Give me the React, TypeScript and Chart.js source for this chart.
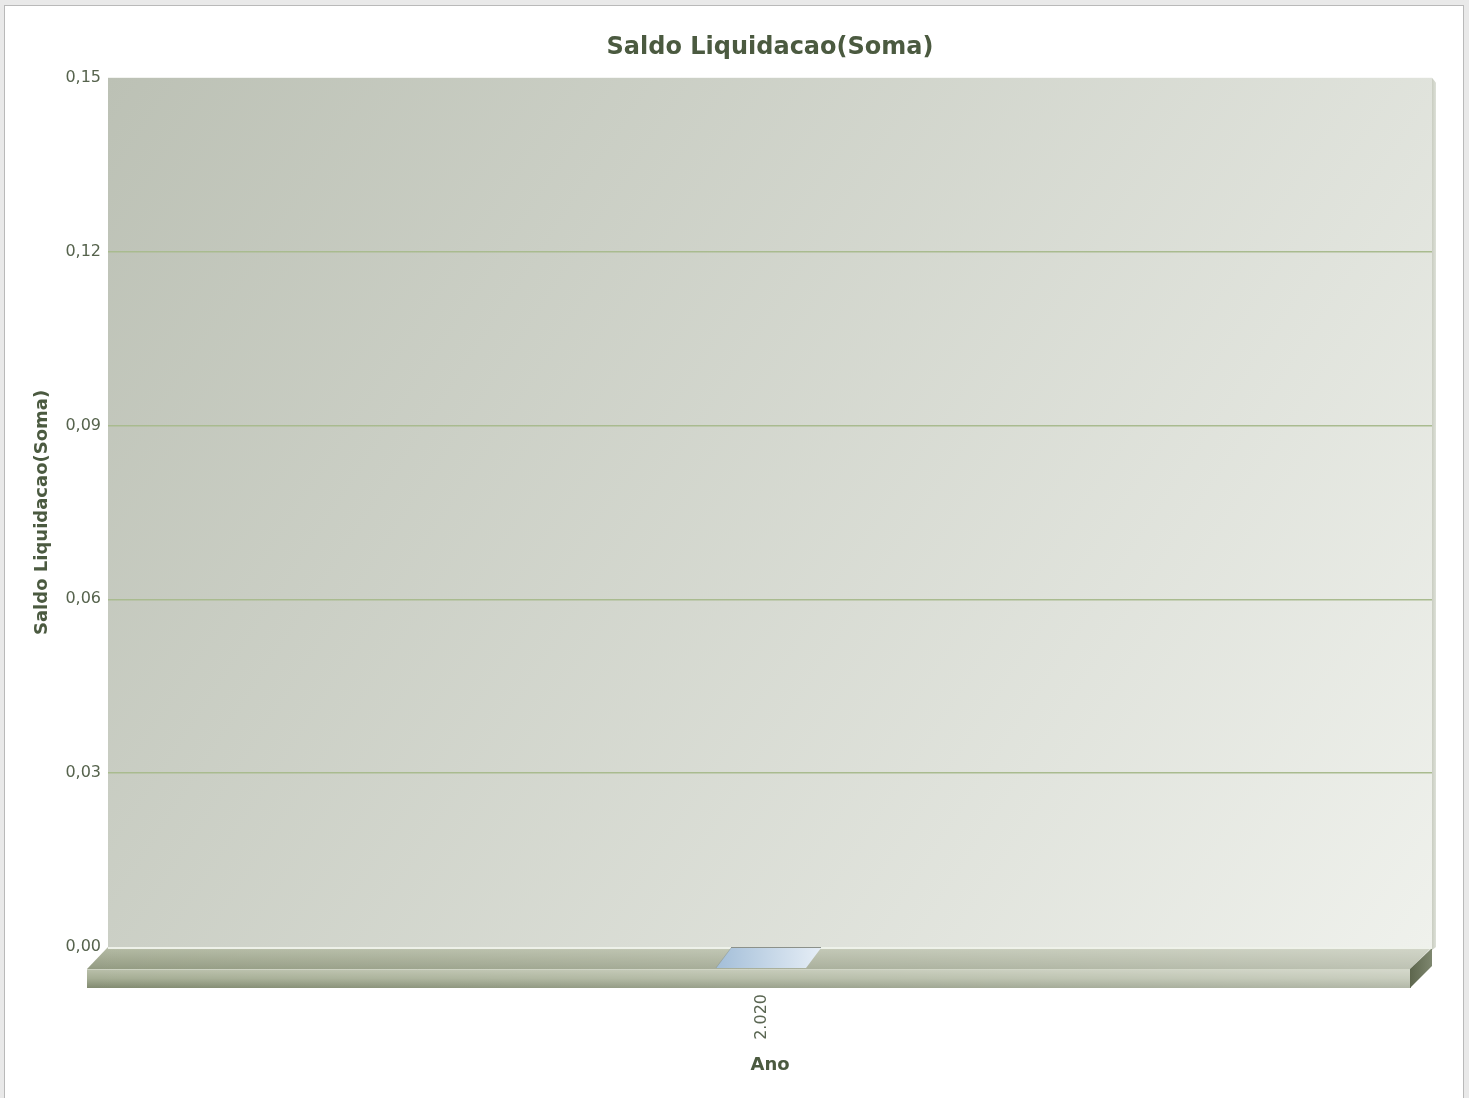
import React, { useEffect, useRef } from "react";
import { Chart, registerables } from "chart.js";

Chart.register(...registerables);

const chartTitle = "Saldo Liquidacao(Soma)";
const yAxisTitle = "Saldo Liquidacao(Soma)";
const xAxisTitle = "Ano";
const categories = ["2.020"];
const seriesValues = [0];
const yTickValues = [0, 0.03, 0.06, 0.09, 0.12, 0.15];
const yTickLabels = ["0,00", "0,03", "0,06", "0,09", "0,12", "0,15"];

const FONT = "'DejaVu Sans', sans-serif";
const DX = 22;
const DY = 22;

const wallPlugin = {
  id: "wall3d",
  beforeDraw(chart: any) {
    const { ctx, chartArea: ca } = chart;
    ctx.save();
    const g = ctx.createLinearGradient(ca.left, ca.top, ca.right, ca.bottom);
    g.addColorStop(0, "#bcc1b5");
    g.addColorStop(1, "#eff1ec");
    ctx.fillStyle = g;
    ctx.fillRect(ca.left, ca.top, ca.right - ca.left, ca.bottom - ca.top);
    const gs = ctx.createLinearGradient(ca.right, 0, ca.right + 5, 0);
    gs.addColorStop(0, "#c9cdc1");
    gs.addColorStop(1, "#e2e5dd");
    ctx.fillStyle = gs;
    ctx.beginPath();
    ctx.moveTo(ca.right, ca.top);
    ctx.lineTo(ca.right + 4, ca.top + 5);
    ctx.lineTo(ca.right + 4, ca.bottom);
    ctx.lineTo(ca.right, ca.bottom + 3);
    ctx.closePath();
    ctx.fill();
    ctx.restore();
  },
  beforeDatasetsDraw(chart: any) {
    const { ctx, chartArea: ca } = chart;
    const yb = ca.bottom;
    ctx.save();
    const top = ctx.createLinearGradient(0, yb, 0, yb + DY);
    top.addColorStop(0, "#bcc2ad");
    top.addColorStop(0.15, "#b0b7a0");
    top.addColorStop(1, "#939b82");
    ctx.fillStyle = top;
    ctx.beginPath();
    ctx.moveTo(ca.left, yb);
    ctx.lineTo(ca.right, yb);
    ctx.lineTo(ca.right - DX, yb + DY);
    ctx.lineTo(ca.left - DX + 1, yb + DY);
    ctx.closePath();
    ctx.fill();
    const fy0 = yb + DY;
    const fy1 = yb + DY + 19;
    const front = ctx.createLinearGradient(0, fy0, 0, fy1);
    front.addColorStop(0, "#bac0ab");
    front.addColorStop(0.5, "#a5ad94");
    front.addColorStop(1, "#818a70");
    ctx.fillStyle = front;
    ctx.fillRect(ca.left - DX + 1, fy0, ca.right - ca.left, fy1 - fy0);
    const hl = ctx.createLinearGradient(ca.left - DX, 0, ca.right, 0);
    hl.addColorStop(0, "rgba(255,255,255,0)");
    hl.addColorStop(1, "rgba(255,255,255,0.4)");
    ctx.fillStyle = hl;
    ctx.beginPath();
    ctx.moveTo(ca.left, yb);
    ctx.lineTo(ca.right, yb);
    ctx.lineTo(ca.right - DX, yb + DY);
    ctx.lineTo(ca.right - DX, fy1);
    ctx.lineTo(ca.left - DX + 1, fy1);
    ctx.lineTo(ca.left - DX + 1, yb + DY);
    ctx.closePath();
    ctx.fill();
    ctx.strokeStyle = "rgba(210,215,200,0.8)";
    ctx.lineWidth = 1;
    ctx.beginPath();
    ctx.moveTo(ca.left - DX + 1, fy0 + 0.5);
    ctx.lineTo(ca.right - DX, fy0 + 0.5);
    ctx.stroke();
    const side = ctx.createLinearGradient(ca.right - DX, 0, ca.right, 0);
    side.addColorStop(0, "#5d664d");
    side.addColorStop(1, "#7e876f");
    ctx.fillStyle = side;
    ctx.beginPath();
    ctx.moveTo(ca.right - DX, fy0);
    ctx.lineTo(ca.right, yb + 1);
    ctx.lineTo(ca.right, fy1 - DY);
    ctx.lineTo(ca.right - DX, fy1);
    ctx.closePath();
    ctx.fill();
    ctx.strokeStyle = "rgba(240,243,236,0.95)";
    ctx.lineWidth = 2;
    ctx.beginPath();
    ctx.moveTo(ca.left, yb + 1);
    ctx.lineTo(ca.right, yb + 1);
    ctx.stroke();
    ctx.restore();
  },
  afterDatasetsDraw(chart: any) {
    const { ctx } = chart;
    const meta = chart.getDatasetMeta(0);
    const yScale = chart.scales.y;
    ctx.save();
    meta.data.forEach((el: any, i: number) => {
      const xc = el.x;
      const hw = el.width / 2;
      const y0 = yScale.getPixelForValue(seriesValues[i]) + 1;
      const bx = xc + 6;
      const fx = xc - 9;
      const g = ctx.createLinearGradient(fx - hw, 0, bx + hw, 0);
      g.addColorStop(0, "#a3bed8");
      g.addColorStop(1, "#e6eef6");
      ctx.fillStyle = g;
      ctx.beginPath();
      ctx.moveTo(bx - hw, y0);
      ctx.lineTo(bx + hw, y0);
      ctx.lineTo(fx + hw, y0 + 20);
      ctx.lineTo(fx - hw, y0 + 20);
      ctx.closePath();
      ctx.fill();
      ctx.strokeStyle = "#8c918a";
      ctx.lineWidth = 1;
      ctx.beginPath();
      ctx.moveTo(bx - hw, y0 - 0.5);
      ctx.lineTo(bx + hw, y0 - 0.5);
      ctx.stroke();
      ctx.strokeStyle = "rgba(120,130,120,0.35)";
      ctx.beginPath();
      ctx.moveTo(bx - hw, y0);
      ctx.lineTo(fx - hw, y0 + 20);
      ctx.stroke();
    });
    ctx.restore();
  },
};

export default function App() {
  const ref = useRef<HTMLCanvasElement | null>(null);
  useEffect(() => {
    if (!ref.current) return;
    const chart = new Chart(ref.current, {
      type: "bar",
      data: {
        labels: categories,
        datasets: [
          {
            label: yAxisTitle,
            data: seriesValues,
            backgroundColor: "rgba(0,0,0,0)",
            borderWidth: 0,
            barPercentage: 0.068,
            categoryPercentage: 1,
          },
        ],
      },
      options: {
        animation: false,
        responsive: false,
        devicePixelRatio: 1,
        layout: { padding: { left: 0, right: 37, top: 0, bottom: 0 } },
        plugins: {
          legend: { display: false },
          tooltip: { enabled: false },
          title: {
            display: true,
            text: chartTitle,
            fullSize: false,
            color: "#4b5a40",
            font: { family: FONT, size: 24, weight: "bold" },
            padding: { top: 33, bottom: 16 },
          },
        },
        scales: {
          x: {
            grid: { display: false, drawTicks: false },
            border: { display: false },
            ticks: {
              minRotation: 90,
              maxRotation: 90,
              autoSkip: false,
              padding: 47,
              labelOffset: -8,
              color: "#5a6652",
              font: { family: FONT, size: 16 },
            },
            title: {
              display: true,
              text: xAxisTitle,
              color: "#4b5a40",
              font: { family: FONT, size: 18, weight: "bold" },
              padding: { top: 0, bottom: 22 },
            },
            afterFit: (s: any) => {
              s.height = 151;
            },
          },
          y: {
            min: 0,
            max: 0.15,
            afterBuildTicks: (s: any) => {
              s.ticks = yTickValues.map((v) => ({ value: v }));
            },
            grid: {
              drawTicks: false,
              color: (c: any) =>
                c.index === 0 || c.index === yTickValues.length - 1 ? "rgba(0,0,0,0)" : "#a9bb8f",
              lineWidth: 1.5,
            },
            border: { display: false },
            ticks: {
              padding: 7,
              color: "#56634d",
              font: { family: FONT, size: 16 },
              callback: (_v: any, i: number) => yTickLabels[i],
            },
            title: {
              display: true,
              text: yAxisTitle,
              color: "#4b5a40",
              font: { family: FONT, size: 18, weight: "bold" },
              padding: { top: 32, bottom: 0 },
            },
            afterFit: (s: any) => {
              s.width = 108;
            },
          },
        },
      },
      plugins: [wallPlugin],
    });
    return () => chart.destroy();
  }, []);
  return (
    <div
      style={{
        position: "absolute",
        left: 0,
        top: 0,
        width: 1469,
        height: 1098,
        background: "#e9e9e9",
        overflow: "hidden",
      }}
    >
      <div
        style={{
          position: "absolute",
          left: 4,
          top: 5,
          width: 1458,
          height: 1110,
          background: "#ffffff",
          border: "1px solid #b9b9b9",
        }}
      />
      <canvas
        ref={ref}
        width={1469}
        height={1098}
        style={{ position: "absolute", left: 0, top: 0, width: 1469, height: 1098 }}
      />
    </div>
  );
}
